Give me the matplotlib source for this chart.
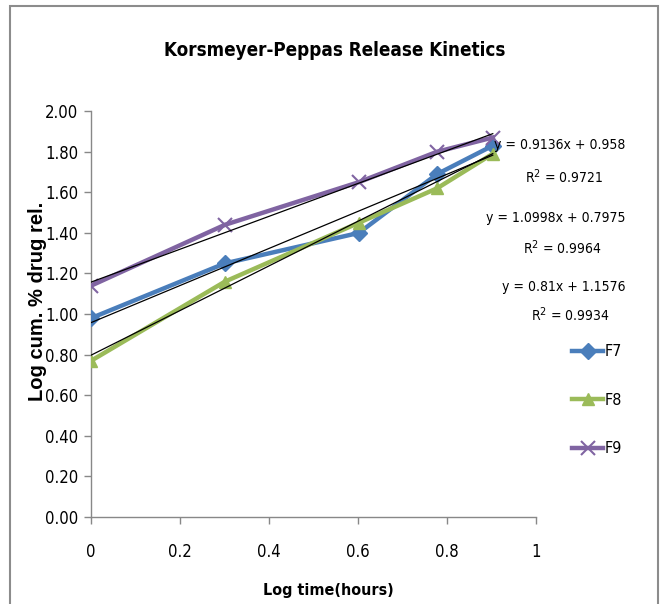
import matplotlib.pyplot as plt
from matplotlib.patches import Rectangle
import numpy as np

# log time (hours) and log cumulative % drug released
log_time = [0.0, 0.301, 0.602, 0.778, 0.903]
f7 = [0.98, 1.25, 1.40, 1.69, 1.83]
f8 = [0.77, 1.16, 1.45, 1.62, 1.79]
f9 = [1.14, 1.44, 1.65, 1.80, 1.87]

# linear fits shown on the chart (slope, intercept, R^2)
fits = [(0.9136, 0.958, 0.9721), (1.0998, 0.7975, 0.9964), (0.81, 1.1576, 0.9934)]
fit_labels = ["y = 0.9136x + 0.958", "y = 1.0998x + 0.7975", "y = 0.81x + 1.1576"]
r2_labels = ["R$^2$ = 0.9721", "R$^2$ = 0.9964", "R$^2$ = 0.9934"]

names = ["F7", "F8", "F9"]
colors = ["#4a7ebb", "#9bbb59", "#8064a2"]
markers = ["D", "^", "x"]

font = "DejaVu Sans"
narrow = dict(fontfamily=font, fontstretch="condensed")

fig = plt.figure(figsize=(6.6, 6.04), dpi=100)
fig.patches.append(Rectangle((0.015, -0.01), 0.982, 1.0, transform=fig.transFigure,
                             fill=False, edgecolor="#8c8c8c", linewidth=1.5))
ax = fig.add_axes([0.138, 0.144, 0.674, 0.672])

series = [f7, f8, f9]
handles = []
for ys, name, c, m in zip(series, names, colors, markers):
    ms = 8 if m != "x" else 10
    h, = ax.plot(log_time, ys, color=c, lw=3.2, marker=m, ms=ms, mew=1.5 if m == "x" else 1,
                 mec=c, mfc=c, label=name, zorder=3)
    handles.append(h)

xs = np.array([log_time[0], log_time[-1]])
for slope, icpt, _ in fits:
    ax.plot(xs, slope * xs + icpt, color="black", lw=0.9, zorder=4)

ax.set_xlim(0, 1)
ax.set_ylim(0, 2)
ax.set_xticks([0, 0.2, 0.4, 0.6, 0.8, 1])
ax.set_xticklabels(["0", "0.2", "0.4", "0.6", "0.8", "1"])
ax.set_yticks(np.arange(0, 2.01, 0.2))
ax.set_yticklabels([f"{v:.2f}" for v in np.arange(0, 2.01, 0.2)])
for lab in ax.get_xticklabels() + ax.get_yticklabels():
    lab.set_fontfamily(font)
    lab.set_fontstretch("condensed")
    lab.set_fontsize(12)
ax.tick_params(axis="both", direction="out", length=5, color="#888888", width=1)
ax.tick_params(axis="x", pad=14)
ax.tick_params(axis="y", pad=4)
for s in ["top", "right"]:
    ax.spines[s].set_visible(False)
for s in ["left", "bottom"]:
    ax.spines[s].set_color("#888888")
    ax.spines[s].set_linewidth(1)

fig.text(328 / 660, 1 - 591 / 604, "Log time(hours)", ha="center", va="center",
         fontweight="bold", fontsize=11.5, **narrow)
fig.text(38 / 660, 1 - 301 / 604, "Log cum. % drug rel.", ha="center", va="center",
         rotation=90, fontfamily="Liberation Sans", fontweight="bold", fontsize=14.5)
fig.text(335 / 660, 1 - 50 / 604, "Korsmeyer-Peppas Release Kinetics", ha="center", va="center",
         fontweight="bold", fontsize=13.5, **narrow)

# fit equations on the right
eq_y = [(145, 177), (218, 248), (287, 315)]
r2_x = [564, 562, 570]
for (ty, ry), rx, fl, rl in zip(eq_y, r2_x, fit_labels, r2_labels):
    fig.text(625 / 660, 1 - ty / 604, fl, ha="right", va="center", fontsize=10, **narrow)
    fig.text(rx / 660, 1 - ry / 604, rl, ha="center", va="center", fontsize=10, **narrow)

leg = fig.legend(handles=handles, loc="upper left", bbox_to_anchor=(558 / 660, 1 - 330 / 604),
                 frameon=False, labelspacing=2.1, handlelength=1.9, handletextpad=0.1,
                 prop={"family": font, "stretch": "condensed", "size": 11.5})

fig.savefig("out.png", dpi=100)
